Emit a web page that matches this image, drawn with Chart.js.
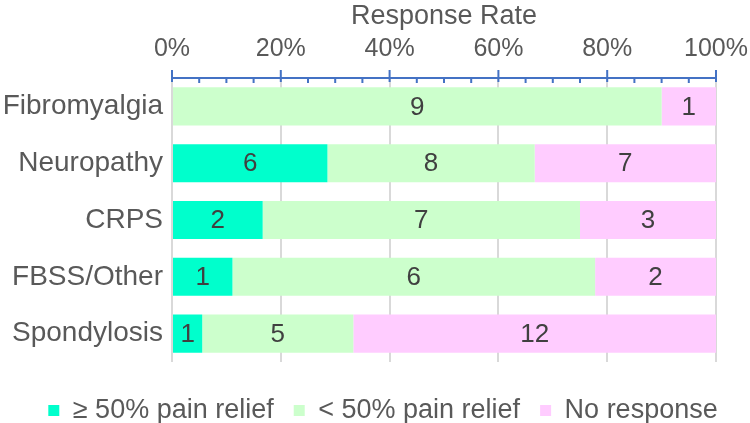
<!DOCTYPE html>
<html>
<head>
<meta charset="utf-8">
<script src="https://cdn.jsdelivr.net/npm/chart.js@4.4.0/dist/chart.umd.min.js"></script>
<style>
  html, body { margin: 0; padding: 0; background: #fff; }
  #wrap { width: 750px; height: 423px; }
</style>
</head>
<body>
<div id="wrap"><canvas id="chart" width="750" height="423"></canvas></div>
<script>
const categories = ['Fibromyalgia', 'Neuropathy', 'CRPS', 'FBSS/Other', 'Spondylosis']
const strongRelief = [0, 6, 2, 1, 1]
const weakRelief = [9, 8, 7, 6, 5]
const noResponse = [1, 7, 3, 2, 12]
const seriesNames = ['\u2265 50% pain relief', '< 50% pain relief', 'No response']

const FONT = "'Liberation Sans', Arial, sans-serif"
const totals = categories.map((_, i) => strongRelief[i] + weakRelief[i] + noResponse[i])
const pct = arr => arr.map((v, i) => v / totals[i] * 100)

// count labels in the middle of each bar segment
const countLabels = {
  id: 'countLabels',
  afterDatasetsDraw(chart) {
    const ctx = chart.ctx
    ctx.save()
    ctx.font = '26px ' + FONT
    ctx.fillStyle = '#404040'
    ctx.textAlign = 'center'
    ctx.textBaseline = 'middle'
    chart.data.datasets.forEach((ds, di) => {
      chart.getDatasetMeta(di).data.forEach((bar, i) => {
        const n = ds.counts[i]
        if (!n) return
        ctx.fillText(String(n), (bar.x + bar.base) / 2, bar.y + 1)
      })
    })
    ctx.restore()
  }
}

// blue axis line on top with major and minor tick marks
const topAxis = {
  id: 'topAxis',
  afterDraw(chart) {
    const ctx = chart.ctx
    const x = chart.scales.x
    const top = chart.chartArea.top
    ctx.save()
    ctx.strokeStyle = '#4472C4'
    ctx.lineWidth = 2
    ctx.beginPath()
    ctx.moveTo(x.getPixelForValue(0) - 1, top)
    ctx.lineTo(x.getPixelForValue(100) + 1, top)
    for (let v = 0; v <= 100; v += 5) {
      const px = x.getPixelForValue(v)
      if (v % 20 === 0) {
        ctx.moveTo(px, top - 8)
        ctx.lineTo(px, top + 4)
      } else {
        ctx.moveTo(px, top)
        ctx.lineTo(px, top + 5)
      }
    }
    ctx.stroke()
    ctx.restore()
  }
}

// fixed legend height, legend nudged a bit to the right like the original
const legendBox = {
  id: 'legendBox',
  beforeLayout(chart) {
    const lg = chart.legend
    if (!lg || lg._fixed) return
    const fit = lg.fit
    lg.fit = function () { fit.call(this); this.height = 61 }
    lg._fixed = true
  },
  afterLayout(chart) {
    const lg = chart.legend
    if (!lg) return
    lg.left += 8
    lg.right += 8
  }
}

new Chart(document.getElementById('chart'), {
  type: 'bar',
  data: {
    labels: categories,
    datasets: [
      { label: seriesNames[0], data: pct(strongRelief), counts: strongRelief, backgroundColor: '#00FFCC' },
      { label: seriesNames[1], data: pct(weakRelief), counts: weakRelief, backgroundColor: '#CCFFCC' },
      { label: seriesNames[2], data: pct(noResponse), counts: noResponse, backgroundColor: '#FFCCFF' }
    ]
  },
  options: {
    indexAxis: 'y',
    responsive: false,
    animation: false,
    layout: { padding: 0 },
    datasets: { bar: { categoryPercentage: 1, barPercentage: 0.67, borderWidth: 0 } },
    scales: {
      x: {
        position: 'top',
        stacked: true,
        min: 0,
        max: 100,
        afterFit: s => { s.height = 78; s.paddingLeft = 0; s.paddingRight = 34 },
        ticks: { stepSize: 20, padding: 14, color: '#595959', font: { family: FONT, size: 25 }, callback: v => v + '%' },
        grid: { color: '#d9d9d9', lineWidth: 2, drawTicks: false },
        border: { display: false },
        title: { display: true, text: 'Response Rate', color: '#595959', font: { family: FONT, size: 27 }, padding: { top: 0, bottom: 0 } }
      },
      y: {
        stacked: true,
        afterFit: s => { s.width = 172 },
        ticks: { padding: 1, color: '#595959', font: { family: FONT, size: 28 } },
        grid: { display: false },
        border: { display: false }
      }
    },
    plugins: {
      legend: {
        position: 'bottom',
        title: { display: true, text: '', font: { size: 1, lineHeight: 1 }, padding: { top: 14, bottom: 0 } },
        labels: { boxWidth: 11, boxHeight: 11, padding: 20, color: '#595959', font: { family: FONT, size: 27 } }
      },
      tooltip: { enabled: false }
    }
  },
  plugins: [countLabels, topAxis, legendBox]
})
</script>
</body>
</html>
